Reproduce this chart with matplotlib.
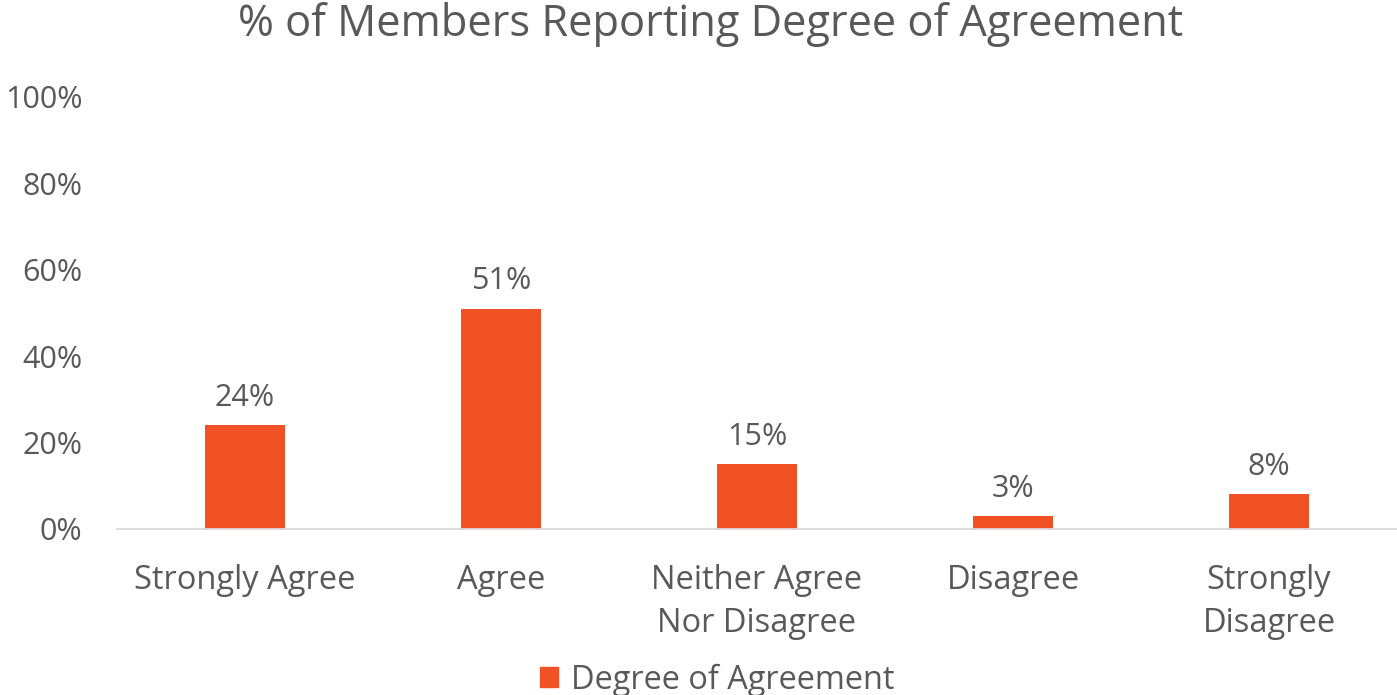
import matplotlib
matplotlib.use("Agg")
import matplotlib.pyplot as plt
from matplotlib.patches import Patch

categories = ["Strongly Agree", "Agree", "Neither Agree\nNor Disagree", "Disagree", "Strongly\nDisagree"]
values = [24, 51, 15, 3, 8]
yticks = [0, 20, 40, 60, 80, 100]
series_name = "Degree of Agreement"
title = "% of Members Reporting Degree of Agreement"

bar_color = "#F05225"
text_color = "#595959"

plt.rcParams['font.family'] = ['Open Sans', 'DejaVu Sans']

fig = plt.figure(figsize=(13.97, 6.95), dpi=100)
ax = fig.add_axes([117/1397, 166/695, 1280/1397, 432/695])

x = list(range(len(categories)))
bars = ax.bar(x, values, width=0.31, color=bar_color, zorder=2)
for xi, v in zip(x, values):
    ax.annotate(f"{v}%", (xi, v), xytext=(0, 9), textcoords="offset points",
                ha="center", va="bottom", fontsize=22, color=text_color)

ax.set_xlim(-0.5, len(categories) - 0.5)
ax.set_ylim(0, 100)
ax.set_yticks(yticks)
ax.set_yticklabels([f"{t}%" for t in yticks], fontsize=22, color=text_color)
ax.set_xticks(x)
ax.set_xticklabels(categories, fontsize=23.5, color=text_color, linespacing=1.42)
ax.tick_params(axis='both', length=0)
ax.tick_params(axis='y', pad=25)
ax.tick_params(axis='x', pad=25)

for s in ["top", "right", "left"]:
    ax.spines[s].set_visible(False)
ax.spines["bottom"].set_color("#D9D9D9")
ax.spines["bottom"].set_linewidth(1.3)

fig.suptitle(title, x=711/1397, y=1 - 2/695, va="top", fontsize=31.3, color=text_color)

fig.legend(handles=[Patch(color=bar_color, label=series_name)], loc="center",
           bbox_to_anchor=(717/1397, 1 - 680/695), frameon=False, fontsize=23.4,
           handlelength=0.55, handleheight=0.55, handletextpad=0.4, labelcolor=text_color)

fig.savefig("out.png", dpi=100)
